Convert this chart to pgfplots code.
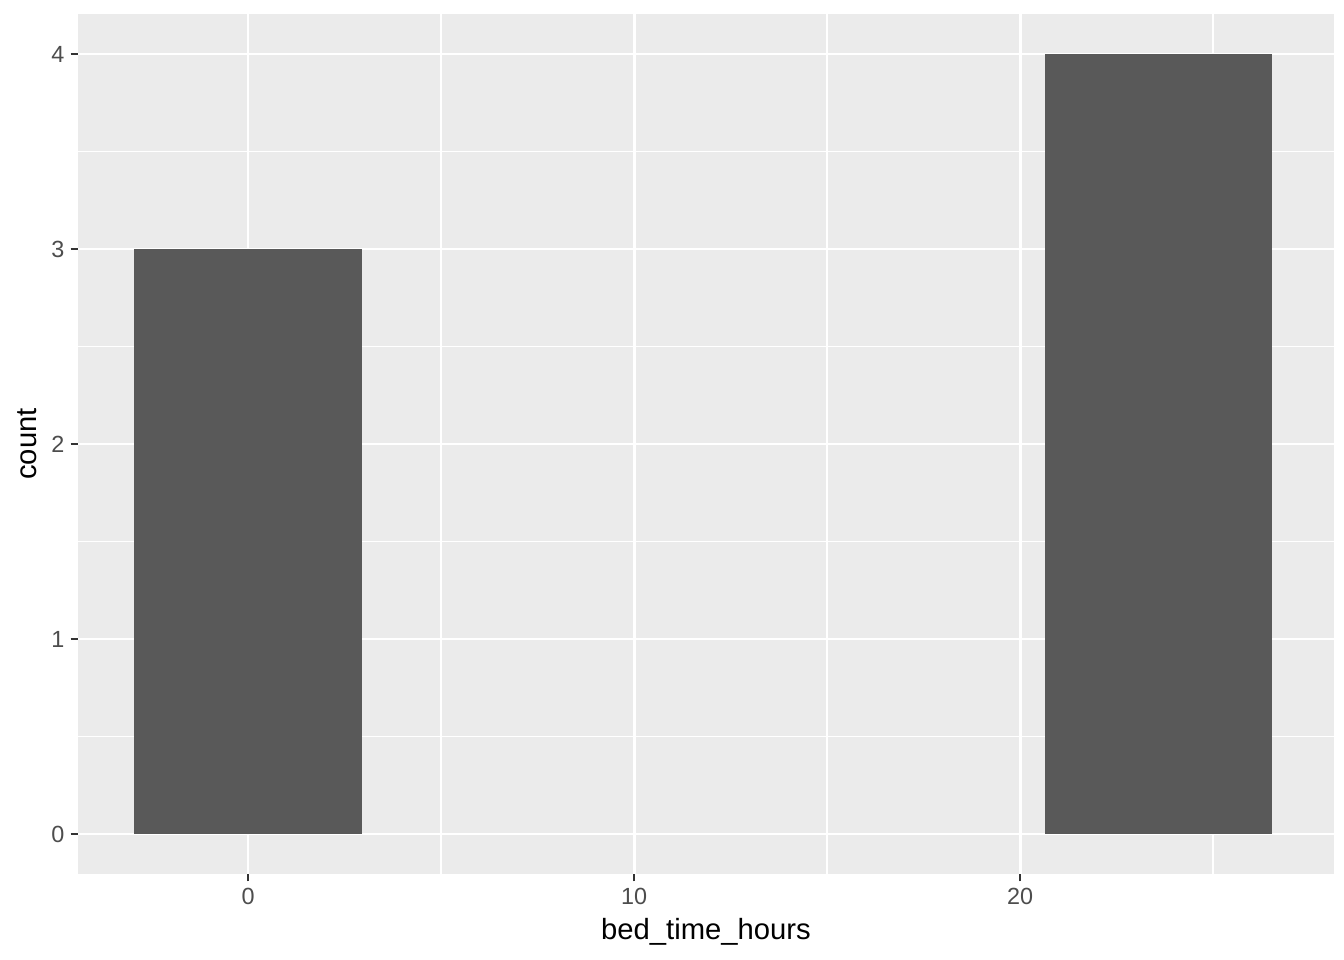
\documentclass[border=0pt]{standalone}
\usepackage{pgfplots}
\pgfplotsset{compat=1.18}
\usepackage{fontspec}
\setmainfont{Liberation Sans}
\definecolor{panelbg}{HTML}{EBEBEB}
\definecolor{barfill}{HTML}{595959}
\definecolor{ticklab}{HTML}{4D4D4D}
\definecolor{tickcol}{HTML}{333333}
\begin{document}
\begin{tikzpicture}
\fill[white] (0,0) rectangle (504bp,360bp);
\useasboundingbox (0,0) rectangle (504bp,360bp);
\begin{axis}[
  at={(29.25bp,32.25bp)}, anchor=south west,
  scale only axis, width=471bp, height=322.5bp,
  xmin=-4.404, xmax=28.13, ymin=-0.205, ymax=4.205,
  axis background/.style={fill=panelbg},
  axis line style={draw=none},
  xtick={0,10,20}, ytick={0,1,2,3,4},
  minor xtick={5,15,25}, minor ytick={0.5,1.5,2.5,3.5},
  grid=both,
  major grid style={white, line width=1.07pt},
  minor grid style={white, line width=0.53pt},
  tick align=outside, major tick length=2.75pt, minor tick length=0pt,
  xtick pos=lower, ytick pos=left,
  tick style={tickcol, line width=0.53pt},
  /pgf/number format/assume math mode=true,
  tick label style={font=\fontsize{8.8}{10}\selectfont, text=ticklab},
  xticklabel style={inner sep=0pt, yshift=-2.2pt, anchor=north},
  yticklabel style={inner sep=0pt, xshift=-2.2pt, anchor=east},
  xlabel={bed\_time\_hours}, ylabel={count},
  label style={font=\fontsize{11}{13}\selectfont},
  xlabel style={yshift=-1.75pt},
  ylabel style={yshift=1.75pt},
]
\addplot[fill=barfill, draw=none] coordinates {(-2.95,0) (-2.95,3) (2.95,3) (2.95,0)} -- cycle;
\addplot[fill=barfill, draw=none] coordinates {(20.65,0) (20.65,4) (26.53,4) (26.53,0)} -- cycle;
\end{axis}
\end{tikzpicture}
\end{document}
